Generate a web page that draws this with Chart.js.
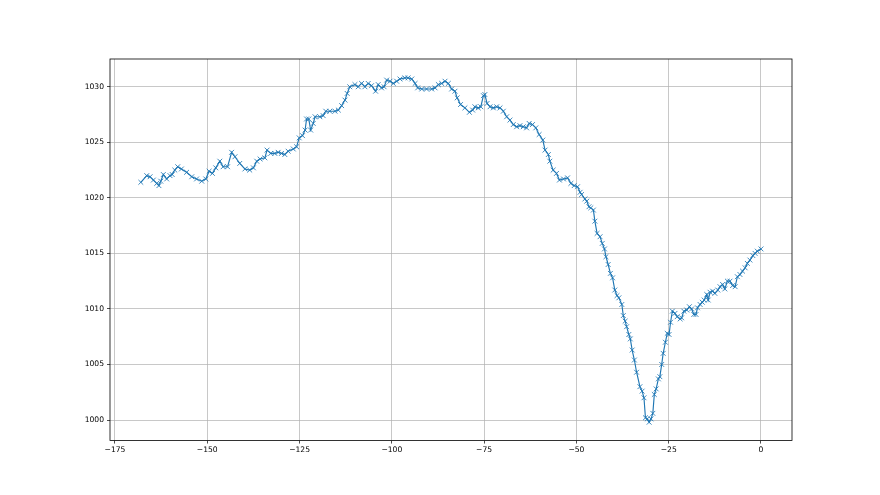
<!DOCTYPE html>
<html>
<head>
<meta charset="utf-8">
<script src="https://cdn.jsdelivr.net/npm/chart.js@4/dist/chart.umd.min.js"></script>
<style>
html,body{margin:0;padding:0;background:#fff;}
canvas{display:block;}
</style>
</head>
<body>
<canvas id="c" width="880" height="495"></canvas>
<script>
const hours = [
-168.0,-166.4,-165.5,-164.6,-163.7,-163.1,-162.6,-161.9,-161.0,-160.1,-159.5,-158.8,-158.0,-157.0,-155.6,-154.2,-152.9,-151.5,-150.4,-149.5,-148.6,-147.7,-146.6,-145.7,-144.5,-143.4,-142.5,-141.2,-139.8,-138.5,-137.5,
-136.6,-135.7,-134.4,-133.8,-132.8,-131.7,-130.8,-129.9,-129.0,-128.1,-126.7,-125.8,-125.1,-124.2,-123.5,-123.1,-122.5,-122.0,-121.3,-120.8,-119.5,-118.6,-117.9,-116.8,-115.4,-114.5,-113.6,-112.7,-112.1,-111.4,
-110.0,-109.1,-108.2,-107.3,-106.4,-105.5,-104.4,-103.7,-102.8,-102.1,-101.4,-100.5,-99.6,-98.7,-97.8,-96.5,-95.6,-94.6,-93.7,-93.0,-91.9,-90.6,-89.2,-88.3,-87.4,-86.5,-85.6,-84.7,-83.8,-82.9,
-82.3,-81.4,-80.2,-79.0,-78.1,-77.5,-76.6,-75.9,-75.2,-74.8,-74.2,-73.4,-72.5,-71.6,-70.7,-69.8,-68.9,-68.0,-67.1,-66.2,-65.3,-64.4,-63.5,-62.8,-61.9,-61.0,-60.1,-59.1,-58.5,-57.6,-57.2,-56.3,-55.4,-54.6,
-53.5,-52.4,-51.5,-50.6,-49.7,-49.0,-48.6,-47.7,-47.2,-46.6,-46.1,-45.4,-45.0,-44.4,-43.6,-43.0,-42.4,-42.0,-41.4,-40.8,-40.2,-39.6,-39.0,-38.5,-37.7,-37.3,-36.8,-36.4,-35.8,-35.4,-34.9,-34.3,-33.7,-32.8,-32.2,-31.7,-31.3,-30.8,-30.3,-29.8,-29.3,-28.9,-28.4,-27.8,-27.4,-26.9,-26.5,-25.9,-25.4,-24.9,-24.5,-24.0,
-23.3,-22.7,-21.9,-21.5,-20.9,-20.1,-19.4,-18.8,-18.2,-17.6,-17.2,-16.5,-15.9,-15.4,-14.7,-14.3,-13.8,-13.1,-12.5,-11.7,-11.1,-10.4,-9.8,-9.1,-8.4,-7.7,-7.0,-6.4,-5.7,-5.0,-4.3,-3.7,-3.0,-2.2,-1.6,-1.0,0.0
];
const pressure = [
1021.4,1022.0,1021.9,1021.6,1021.3,1021.1,1021.5,1022.1,1021.7,1022.0,1022.1,1022.5,1022.8,1022.6,1022.3,1021.9,1021.7,1021.5,1021.7,1022.4,1022.2,1022.7,1023.3,1022.8,1022.8,1024.1,1023.7,1023.1,1022.6,1022.5,1022.7,
1023.3,1023.5,1023.6,1024.3,1024.0,1024.0,1024.1,1024.0,1023.9,1024.2,1024.4,1024.6,1025.4,1025.6,1026.1,1027.1,1027.1,1026.1,1026.7,1027.3,1027.3,1027.4,1027.8,1027.8,1027.8,1027.9,1028.3,1028.8,1029.4,1030.0,
1030.2,1030.0,1030.3,1030.0,1030.3,1030.1,1029.6,1030.2,1029.9,1030.0,1030.6,1030.5,1030.3,1030.5,1030.7,1030.8,1030.8,1030.7,1030.3,1029.9,1029.8,1029.8,1029.8,1029.9,1030.2,1030.3,1030.5,1030.3,1029.8,1029.6,
1029.0,1028.4,1028.1,1027.7,1027.9,1028.2,1028.1,1028.2,1029.2,1029.3,1028.5,1028.2,1028.1,1028.2,1028.1,1027.8,1027.3,1027.0,1026.6,1026.4,1026.5,1026.4,1026.3,1026.7,1026.6,1026.3,1025.7,1025.2,1024.3,1023.9,1023.3,1022.5,1022.2,1021.6,
1021.7,1021.8,1021.3,1021.1,1021.0,1020.5,1020.3,1019.9,1019.7,1019.2,1019.1,1018.9,1017.9,1016.8,1016.5,1015.9,1015.4,1014.7,1014.0,1013.2,1012.8,1011.7,1011.2,1011.0,1010.4,1009.4,1008.9,1008.4,1007.7,1007.3,1006.3,1005.4,1004.3,1003.0,1002.6,1002.0,1000.2,1000.1,999.8,1000.1,1000.6,1002.3,1002.8,1003.7,1003.9,1005.0,1006.0,1007.0,1007.8,1007.7,1008.8,1009.8,
1009.6,1009.3,1009.1,1009.2,1009.8,1009.9,1010.2,1010.0,1009.5,1009.5,1010.1,1010.4,1010.6,1010.8,1011.3,1010.8,1011.5,1011.6,1011.4,1011.7,1012.0,1012.2,1011.8,1012.5,1012.5,1012.1,1012.0,1012.9,1013.1,1013.4,1013.7,1014.1,1014.4,1014.8,1015.0,1015.2,1015.4
];
const xTicks = [-175, -150, -125, -100, -75, -50, -25, 0];
const yTicks = [1000, 1005, 1010, 1015, 1020, 1025, 1030];

const fmt = v => (v < 0 ? '\u2212' + Math.abs(v) : String(v));

const frame = {
  id: 'frame',
  afterDraw(chart) {
    const a = chart.chartArea, ctx = chart.ctx;
    ctx.save();
    ctx.strokeStyle = '#000';
    ctx.lineWidth = 0.8;
    ctx.strokeRect(a.left, a.top, a.right - a.left, a.bottom - a.top);
    ctx.restore();
  }
};

new Chart(document.getElementById('c'), {
  type: 'line',
  data: {
    datasets: [{
      data: hours.map((h, i) => ({x: h, y: pressure[i]})),
      borderColor: '#1f77b4',
      borderWidth: 1.15,
      pointStyle: 'crossRot',
      pointRadius: 3.4,
      pointBorderWidth: 1,
      pointBorderColor: 'rgba(31,119,180,0.85)',
      pointBackgroundColor: '#1f77b4',
      tension: 0,
      fill: false
    }]
  },
  options: {
    responsive: false,
    animation: false,
    devicePixelRatio: 1,
    layout: {padding: {left: 0, right: 88, top: 59, bottom: 0}},
    plugins: {legend: {display: false}, tooltip: {enabled: false}},
    scales: {
      x: {
        type: 'linear',
        min: -176.35,
        max: 8.4,
        afterBuildTicks: s => { s.ticks = xTicks.map(v => ({value: v})); },
        afterFit: s => { s.height = 54.45; },
        grid: {color: '#b0b0b0', lineWidth: 0.7, tickColor: '#000', tickLength: 3, drawOnChartArea: true},
        border: {display: false},
        ticks: {color: '#000', font: {family: 'DejaVu Sans', size: 7.6}, padding: 2, maxRotation: 0, autoSkip: false, callback: v => fmt(v)}
      },
      y: {
        min: 998.15,
        max: 1032.5,
        afterBuildTicks: s => { s.ticks = yTicks.map(v => ({value: v})); },
        afterFit: s => { s.width = 110; },
        grid: {color: '#b0b0b0', lineWidth: 0.7, tickColor: '#000', tickLength: 3},
        border: {display: false},
        ticks: {color: '#000', font: {family: 'DejaVu Sans', size: 7.6}, padding: 3, autoSkip: false, callback: v => fmt(v)}
      }
    }
  },
  plugins: [frame]
});
</script>
</body>
</html>
